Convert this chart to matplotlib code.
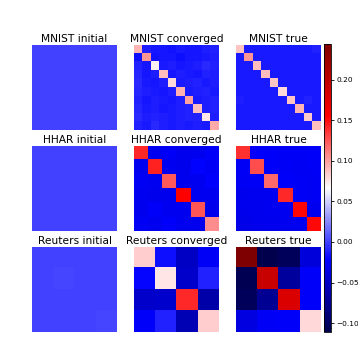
import matplotlib
matplotlib.use("Agg")
import matplotlib.pyplot as plt
import numpy as np

# MNIST (10 classes)
mnist_initial = [[0.0] * 10 for _ in range(10)]

mnist_converged = [
    [0.092, -0.012, -0.015, -0.014, -0.016, -0.013, -0.015, -0.014, -0.012, -0.010],
    [-0.018, 0.103, -0.016, -0.015, -0.014, -0.017, -0.015, -0.014, -0.013, -0.012],
    [-0.010, -0.014, 0.072, -0.013, -0.012, -0.014, -0.013, -0.012, -0.008, -0.010],
    [-0.009, -0.015, -0.012, 0.090, -0.014, -0.012, -0.013, -0.014, -0.011, -0.012],
    [-0.008, -0.013, -0.014, -0.012, 0.080, -0.013, -0.012, -0.011, -0.013, -0.012],
    [-0.009, -0.012, -0.013, -0.015, -0.012, 0.094, -0.013, -0.012, -0.011, -0.013],
    [-0.010, -0.014, -0.012, -0.013, -0.014, -0.012, 0.099, -0.013, -0.012, -0.011],
    [-0.009, -0.013, -0.012, -0.014, -0.013, -0.012, -0.011, 0.090, -0.012, -0.011],
    [-0.008, -0.012, -0.011, -0.012, -0.013, -0.012, -0.011, -0.010, 0.076, -0.012],
    [-0.011, -0.013, -0.008, -0.012, -0.013, -0.012, -0.013, -0.012, -0.013, 0.097],
]

mnist_true = [
    [0.087, -0.013, -0.013, -0.013, -0.013, -0.013, -0.013, -0.013, -0.013, -0.011],
    [-0.013, 0.103, -0.013, -0.013, -0.013, -0.013, -0.013, -0.013, -0.013, -0.013],
    [-0.013, -0.013, 0.090, -0.013, -0.013, -0.013, -0.013, -0.013, -0.013, -0.013],
    [-0.013, -0.013, -0.013, 0.089, -0.013, -0.013, -0.013, -0.013, -0.013, -0.013],
    [-0.013, -0.013, -0.013, -0.013, 0.087, -0.013, -0.013, -0.013, -0.013, -0.013],
    [-0.013, -0.013, -0.013, -0.013, -0.013, 0.080, -0.013, -0.013, -0.013, -0.013],
    [-0.012, -0.013, -0.013, -0.013, -0.013, -0.013, 0.087, -0.013, -0.011, -0.013],
    [-0.013, -0.013, -0.013, -0.013, -0.013, -0.013, -0.013, 0.092, -0.013, -0.013],
    [-0.013, -0.013, -0.013, -0.013, -0.013, -0.013, -0.013, -0.013, 0.085, -0.013],
    [-0.013, -0.013, -0.013, -0.013, -0.013, -0.013, -0.013, -0.013, -0.013, 0.089],
]

# HHAR (6 classes)
hhar_initial = [[0.0] * 6 for _ in range(6)]

hhar_converged = [
    [0.141, -0.028, -0.026, -0.030, -0.029, -0.024],
    [-0.030, 0.143, -0.028, -0.031, -0.022, -0.026],
    [-0.027, -0.029, 0.124, -0.030, -0.028, -0.023],
    [-0.029, -0.031, -0.030, 0.156, -0.029, -0.028],
    [-0.030, -0.025, -0.028, -0.029, 0.125, -0.031],
    [-0.027, -0.029, -0.025, -0.028, -0.030, 0.106],
]

hhar_true = [
    [0.138, -0.024, -0.025, -0.026, -0.026, -0.025],
    [-0.026, 0.128, -0.024, -0.026, -0.027, -0.026],
    [-0.027, -0.026, 0.119, -0.025, -0.026, -0.027],
    [-0.030, -0.029, -0.028, 0.141, -0.026, -0.027],
    [-0.031, -0.030, -0.029, -0.028, 0.153, -0.030],
    [-0.032, -0.031, -0.030, -0.029, -0.028, 0.152],
]

# Reuters (4 classes)
reuters_initial = [
    [0.0, 0.0, 0.0, 0.0],
    [0.0, 0.002, 0.0, 0.0],
    [0.0, 0.0, 0.0, 0.0],
    [0.0, 0.0, 0.0, 0.002],
]

reuters_converged = [
    [0.084, -0.018, -0.050, -0.026],
    [-0.020, 0.076, -0.048, -0.010],
    [-0.048, -0.046, 0.141, -0.064],
    [-0.024, -0.011, -0.059, 0.084],
]

reuters_true = [
    [0.244, -0.111, -0.104, -0.040],
    [-0.108, 0.194, -0.070, -0.024],
    [-0.104, -0.075, 0.180, -0.024],
    [-0.037, -0.026, -0.024, 0.080],
]

matrices = [
    [mnist_initial, mnist_converged, mnist_true],
    [hhar_initial, hhar_converged, hhar_true],
    [reuters_initial, reuters_converged, reuters_true],
]
titles = [
    ["MNIST initial", "MNIST converged", "MNIST true"],
    ["HHAR initial", "HHAR converged", "HHAR true"],
    ["Reuters initial", "Reuters converged", "Reuters true"],
]

vmin = min(np.min(m) for row in matrices for m in row)
vmax = max(np.max(m) for row in matrices for m in row)

W, H = 358, 363
fig = plt.figure(figsize=(W / 100, H / 100), dpi=100)

lefts = [32, 134, 236]
tops = [45, 146, 247]
size = 85

im = None
for r in range(3):
    for c in range(3):
        ax = fig.add_axes([lefts[c] / W, 1 - (tops[r] + size) / H, size / W, size / H])
        im = ax.imshow(np.array(matrices[r][c]), cmap="seismic", vmin=vmin, vmax=vmax,
                       interpolation="nearest")
        ax.axis("off")
        ax.set_title(titles[r][c], fontsize=7.7, pad=2)

cax = fig.add_axes([324 / W, 1 - 332 / H, 7 / W, 288 / H])
cb = fig.colorbar(im, cax=cax)
cb.ax.tick_params(labelsize=5.3, length=2.5, width=0.6, pad=1.5)
cb.outline.set_linewidth(0.6)

fig.savefig("out.png", dpi=100)
